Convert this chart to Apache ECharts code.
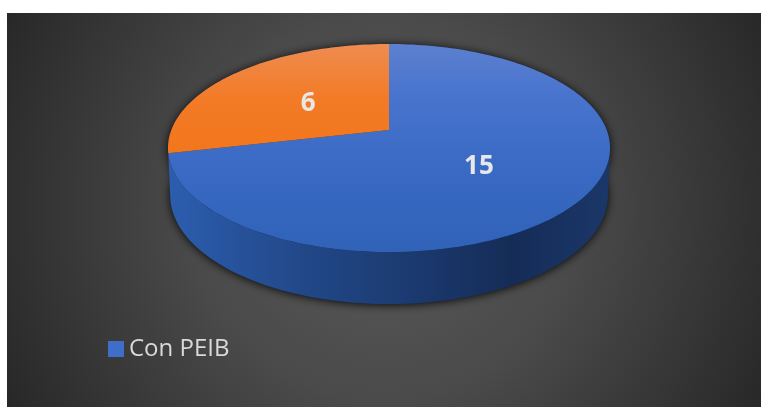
<!DOCTYPE html>
<html>
<head>
<meta charset="utf-8">
<style>html,body{margin:0;padding:0;background:#fff}#c{width:761px;height:407px}</style>
<script src="https://cdn.jsdelivr.net/npm/echarts@6/dist/echarts.min.js"></script>
</head>
<body>
<div id="c"></div>
<script>
var categories = ['Con PEIB', 'Sin PEIB'];
var values = [15, 6];
var legendLabels = ['Con PEIB'];

var chart = echarts.init(document.getElementById('c'), null, {renderer: 'canvas'});
var total = values.reduce(function (a, b) { return a + b; }, 0);

// tilted-disc projection
var CX = 389, CY = 130, A = 217.7, B = 100.9, K = 0.173;
function project(deg, t, lower) {
  var r = deg * Math.PI / 180;
  var u = Math.sin(r) * t, v = -Math.cos(r) * t, w = 1 - K * v;
  var x = CX + A * u / w, y = CY + B * v / w;
  if (lower) { x = CX + (x - CX) * 0.99; y += 46 + 6 * v; }
  return [x, y];
}
function arc(a0, a1, lower) {
  var pts = [], n = Math.max(2, Math.ceil(Math.abs(a1 - a0) / 1.5));
  for (var i = 0; i <= n; i++) pts.push(project(a0 + (a1 - a0) * i / n, 1, lower));
  return pts;
}
var G = echarts.graphic;
var blueTop = new G.LinearGradient(0, 44, 0, 252, [
  {offset: 0, color: '#5d80cf'}, {offset: 0.22, color: '#4a75ce'},
  {offset: 0.55, color: '#3b6bc5'}, {offset: 1, color: '#3062b8'}], true);
var orangeTop = new G.LinearGradient(0, 44, 0, 152, [
  {offset: 0, color: '#ee8c50'}, {offset: 0.5, color: '#f37b27'}, {offset: 1, color: '#f2761c'}], true);
var blueSide = new G.LinearGradient(170, 0, 608, 0, [
  {offset: 0, color: '#2c5dae'}, {offset: 0.3, color: '#224889'},
  {offset: 0.55, color: '#1b3a70'}, {offset: 0.78, color: '#152c57'}, {offset: 1, color: '#1b3769'}], true);
var orangeSide = '#a8520f';
var tops = [blueTop, orangeTop], sides = [blueSide, orangeSide];
var SIL0 = 100, SIL1 = 260; // visible outer wall

function renderItem(params, api) {
  var i = params.dataIndex, before = 0;
  for (var j = 0; j < i; j++) before += values[j];
  var a0 = before / total * 360, a1 = (before + api.value(1)) / total * 360;
  var kids = [];
  if (i === 0) {
    [arc(0, 360, true), arc(0, 360, false)].forEach(function (pts) {
      kids.push({type: 'polygon', shape: {points: pts},
        style: {fill: '#1a2a48', shadowBlur: 10, shadowColor: 'rgba(0,0,0,0.9)', shadowOffsetY: 1}});
    });
  }
  var s0 = Math.max(a0, SIL0), s1 = Math.min(a1, SIL1);
  if (s1 - s0 > 5) {
    kids.push({type: 'polygon',
      shape: {points: arc(s0, s1, false).concat(arc(s1, s0, true))},
      style: {fill: sides[i]}});
  }
  kids.push({type: 'polygon',
    shape: {points: [project(0, 0)].concat(arc(a0, a1, false))},
    style: {fill: tops[i]}});
  var mid = project((a0 + a1) / 2, 0.5);
  kids.push({type: 'text', x: mid[0], y: mid[1] + 3, z2: 10,
    style: {text: String(api.value(1)), fill: '#e8e8e8', align: 'center', verticalAlign: 'middle',
      font: 'bold 26px "Open Sans", sans-serif'}});
  return {type: 'group', children: kids};
}

chart.setOption({
  animation: false,
  backgroundColor: '#ffffff',
  graphic: [{
    type: 'rect', z: -10, silent: true,
    shape: {x: 7, y: 13, width: 754, height: 394},
    style: {fill: new G.RadialGradient(385, 208, 430, [
      {offset: 0, color: '#5a5a5a'}, {offset: 0.45, color: '#4a4a4a'}, {offset: 1, color: '#272727'}], true)}
  }],
  legend: {
    data: legendLabels, left: 103, top: 332, icon: 'rect', itemWidth: 16, itemHeight: 16, itemGap: 10,
    selectedMode: false,
    textStyle: {color: '#d9d9d9', fontSize: 24, fontFamily: '"Open Sans", sans-serif'}
  },
  series: [{
    type: 'custom', name: legendLabels[0], coordinateSystem: 'none', silent: true,
    itemStyle: {color: '#3f6ec8'}, renderItem: renderItem, clip: false,
    data: categories.map(function (c, i) { return [c, values[i]]; })
  }]
});
</script>
</body>
</html>
